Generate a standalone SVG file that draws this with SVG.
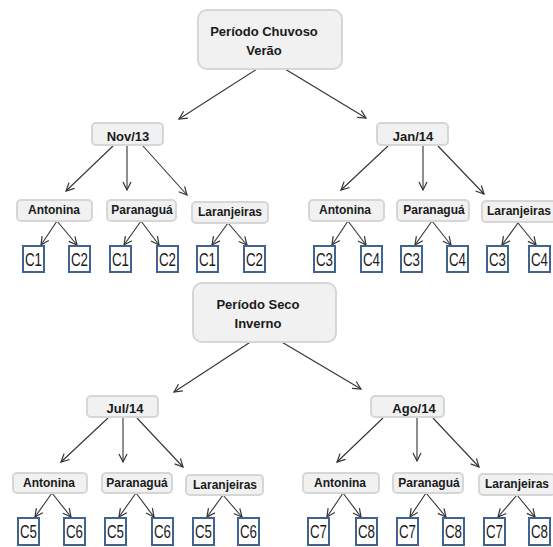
<svg xmlns="http://www.w3.org/2000/svg" width="553" height="547" viewBox="0 0 553 547">
<style>
.box{fill:#F1F1F1;stroke:#D6D6D6;stroke-width:2}
.cb{fill:#FFFFFF;stroke:#40638F;stroke-width:2}
.t{font-family:"Liberation Sans",Arial,sans-serif;font-weight:bold;fill:#1A1A1A;text-anchor:middle}
.t13{font-size:13px}
.t12{font-size:12px}
.c{font-family:"Liberation Sans",Arial,sans-serif;font-size:18px;fill:#1A1A1A;text-anchor:middle}
.e{stroke:#333333;stroke-width:1.1;fill:none;marker-end:url(#ah)}
</style>
<defs>
<marker id="ah" markerUnits="userSpaceOnUse" markerWidth="12" markerHeight="12" refX="8" refY="4" orient="auto" overflow="visible">
<path d="M0,0 L8,4 L0,8" fill="none" stroke="#333333" stroke-width="1.2"/>
</marker>
</defs>
<rect width="553" height="547" fill="#FFFFFF"/>
<g id="connectors">
<line class="e" x1="257" y1="69" x2="179" y2="119"/>
<line class="e" x1="285" y1="69" x2="366" y2="118"/>
<line class="e" x1="252" y1="341" x2="174" y2="392"/>
<line class="e" x1="280" y1="341" x2="361" y2="389"/>
<line class="e" x1="113" y1="146" x2="66" y2="191"/>
<line class="e" x1="127" y1="146" x2="127" y2="190"/>
<line class="e" x1="143" y1="146" x2="187" y2="195"/>
<line class="e" x1="388" y1="146" x2="341" y2="190"/>
<line class="e" x1="423" y1="146" x2="423" y2="190"/>
<line class="e" x1="438" y1="146" x2="484" y2="194"/>
<line class="e" x1="108" y1="418" x2="61" y2="462"/>
<line class="e" x1="123" y1="418" x2="123" y2="462"/>
<line class="e" x1="137" y1="418" x2="183" y2="467"/>
<line class="e" x1="383" y1="418" x2="337" y2="462"/>
<line class="e" x1="417" y1="418" x2="417" y2="461"/>
<line class="e" x1="433" y1="418" x2="479" y2="467"/>
<line class="e" x1="57" y1="221" x2="41" y2="245"/>
<line class="e" x1="57" y1="221" x2="77" y2="245"/>
<line class="e" x1="141" y1="221" x2="124" y2="245"/>
<line class="e" x1="141" y1="221" x2="159" y2="245"/>
<line class="e" x1="228" y1="223" x2="212" y2="245"/>
<line class="e" x1="228" y1="223" x2="247" y2="245"/>
<line class="e" x1="348" y1="221" x2="332" y2="245"/>
<line class="e" x1="348" y1="221" x2="366" y2="245"/>
<line class="e" x1="432" y1="221" x2="415" y2="245"/>
<line class="e" x1="432" y1="221" x2="451" y2="245"/>
<line class="e" x1="518" y1="223" x2="502" y2="245"/>
<line class="e" x1="518" y1="223" x2="536" y2="245"/>
<line class="e" x1="52" y1="493" x2="35" y2="517"/>
<line class="e" x1="52" y1="493" x2="71" y2="517"/>
<line class="e" x1="136" y1="493" x2="119" y2="517"/>
<line class="e" x1="136" y1="493" x2="154" y2="517"/>
<line class="e" x1="223" y1="495" x2="207" y2="517"/>
<line class="e" x1="223" y1="495" x2="242" y2="517"/>
<line class="e" x1="343" y1="493" x2="327" y2="517"/>
<line class="e" x1="343" y1="493" x2="361" y2="517"/>
<line class="e" x1="426" y1="493" x2="410" y2="517"/>
<line class="e" x1="426" y1="493" x2="446" y2="517"/>
<line class="e" x1="517" y1="495" x2="498" y2="517"/>
<line class="e" x1="517" y1="495" x2="535" y2="517"/>
</g>
<g id="chuvoso"><rect class="box" x="198" y="10" width="144" height="59" rx="9"/><text class="t t13" x="264" y="36">Período Chuvoso</text><text class="t t13" x="264" y="55">Verão</text></g>
<g id="seco"><rect class="box" x="193" y="283" width="143" height="59" rx="9"/><text class="t t13" x="258" y="309">Período Seco</text><text class="t t13" x="258" y="328">Inverno</text></g>
<g id="nov13"><rect class="box" x="92" y="123" width="71" height="22" rx="4"/><text class="t t13" x="128" y="141">Nov/13</text></g>
<g id="jan14"><rect class="box" x="377" y="123" width="71" height="22" rx="4"/><text class="t t13" x="413" y="141">Jan/14</text></g>
<g id="jul14"><rect class="box" x="87" y="396" width="71" height="21" rx="4"/><text class="t t13" x="125" y="413">Jul/14</text></g>
<g id="ago14"><rect class="box" x="371" y="396" width="73" height="21" rx="4"/><text class="t t13" x="414" y="413">Ago/14</text></g>
<g id="n-antonina"><rect class="box" x="17" y="200" width="75" height="21" rx="4"/><text class="t t12" x="54" y="214">Antonina</text></g>
<g id="n-paranagua"><rect class="box" x="107" y="200" width="69" height="21" rx="4"/><text class="t t12" x="142" y="214">Paranaguá</text></g>
<g id="n-laranjeiras"><rect class="box" x="192" y="202" width="76" height="21" rx="4"/><text class="t t12" x="230" y="216">Laranjeiras</text></g>
<g id="j-antonina"><rect class="box" x="309" y="200" width="75" height="21" rx="4"/><text class="t t12" x="345" y="214">Antonina</text></g>
<g id="j-paranagua"><rect class="box" x="397" y="200" width="72" height="21" rx="4"/><text class="t t12" x="434" y="214">Paranaguá</text></g>
<g id="j-laranjeiras"><rect class="box" x="482" y="201" width="76" height="21" rx="4"/><text class="t t12" x="519" y="215">Laranjeiras</text></g>
<g id="l-antonina"><rect class="box" x="13" y="473" width="74" height="20" rx="4"/><text class="t t12" x="49" y="487">Antonina</text></g>
<g id="l-paranagua"><rect class="box" x="102" y="473" width="70" height="20" rx="4"/><text class="t t12" x="137" y="487">Paranaguá</text></g>
<g id="l-laranjeiras"><rect class="box" x="186" y="475" width="77" height="20" rx="4"/><text class="t t12" x="225" y="489">Laranjeiras</text></g>
<g id="a-antonina"><rect class="box" x="303" y="473" width="76" height="20" rx="4"/><text class="t t12" x="340" y="487">Antonina</text></g>
<g id="a-paranagua"><rect class="box" x="393" y="473" width="70" height="20" rx="4"/><text class="t t12" x="429" y="487">Paranaguá</text></g>
<g id="a-laranjeiras"><rect class="box" x="479" y="474" width="76" height="21" rx="4"/><text class="t t12" x="517" y="488">Laranjeiras</text></g>
<g id="c-r1-1"><rect class="cb" x="23" y="246" width="21" height="26"/><text class="c" x="33.5" y="266" textLength="17" lengthAdjust="spacingAndGlyphs">C1</text></g>
<g id="c-r1-2"><rect class="cb" x="69" y="246" width="21" height="26"/><text class="c" x="79.5" y="266" textLength="17" lengthAdjust="spacingAndGlyphs">C2</text></g>
<g id="c-r1-3"><rect class="cb" x="110" y="246" width="21" height="26"/><text class="c" x="120.5" y="266" textLength="17" lengthAdjust="spacingAndGlyphs">C1</text></g>
<g id="c-r1-4"><rect class="cb" x="157" y="246" width="21" height="26"/><text class="c" x="167.5" y="266" textLength="17" lengthAdjust="spacingAndGlyphs">C2</text></g>
<g id="c-r1-5"><rect class="cb" x="197" y="246" width="21" height="26"/><text class="c" x="207.5" y="266" textLength="17" lengthAdjust="spacingAndGlyphs">C1</text></g>
<g id="c-r1-6"><rect class="cb" x="244" y="246" width="21" height="26"/><text class="c" x="254.5" y="266" textLength="17" lengthAdjust="spacingAndGlyphs">C2</text></g>
<g id="c-r1-7"><rect class="cb" x="314" y="246" width="21" height="26"/><text class="c" x="324.5" y="266" textLength="17" lengthAdjust="spacingAndGlyphs">C3</text></g>
<g id="c-r1-8"><rect class="cb" x="361" y="246" width="21" height="26"/><text class="c" x="371.5" y="266" textLength="17" lengthAdjust="spacingAndGlyphs">C4</text></g>
<g id="c-r1-9"><rect class="cb" x="401" y="246" width="21" height="26"/><text class="c" x="411.5" y="266" textLength="17" lengthAdjust="spacingAndGlyphs">C3</text></g>
<g id="c-r1-10"><rect class="cb" x="447" y="246" width="21" height="26"/><text class="c" x="457.5" y="266" textLength="17" lengthAdjust="spacingAndGlyphs">C4</text></g>
<g id="c-r1-11"><rect class="cb" x="487" y="246" width="21" height="26"/><text class="c" x="497.5" y="266" textLength="17" lengthAdjust="spacingAndGlyphs">C3</text></g>
<g id="c-r1-12"><rect class="cb" x="529" y="246" width="21" height="26"/><text class="c" x="539.5" y="266" textLength="17" lengthAdjust="spacingAndGlyphs">C4</text></g>
<g id="c-r2-1"><rect class="cb" x="18" y="518" width="21" height="27"/><text class="c" x="28.5" y="538" textLength="17" lengthAdjust="spacingAndGlyphs">C5</text></g>
<g id="c-r2-2"><rect class="cb" x="64" y="518" width="21" height="27"/><text class="c" x="74.5" y="538" textLength="17" lengthAdjust="spacingAndGlyphs">C6</text></g>
<g id="c-r2-3"><rect class="cb" x="105" y="518" width="21" height="27"/><text class="c" x="115.5" y="538" textLength="17" lengthAdjust="spacingAndGlyphs">C5</text></g>
<g id="c-r2-4"><rect class="cb" x="152" y="518" width="21" height="27"/><text class="c" x="162.5" y="538" textLength="17" lengthAdjust="spacingAndGlyphs">C6</text></g>
<g id="c-r2-5"><rect class="cb" x="193" y="518" width="21" height="27"/><text class="c" x="203.5" y="538" textLength="17" lengthAdjust="spacingAndGlyphs">C5</text></g>
<g id="c-r2-6"><rect class="cb" x="238" y="518" width="21" height="27"/><text class="c" x="248.5" y="538" textLength="17" lengthAdjust="spacingAndGlyphs">C6</text></g>
<g id="c-r2-7"><rect class="cb" x="308" y="518" width="21" height="27"/><text class="c" x="318.5" y="538" textLength="17" lengthAdjust="spacingAndGlyphs">C7</text></g>
<g id="c-r2-8"><rect class="cb" x="356" y="518" width="21" height="27"/><text class="c" x="366.5" y="538" textLength="17" lengthAdjust="spacingAndGlyphs">C8</text></g>
<g id="c-r2-9"><rect class="cb" x="397" y="518" width="21" height="27"/><text class="c" x="407.5" y="538" textLength="17" lengthAdjust="spacingAndGlyphs">C7</text></g>
<g id="c-r2-10"><rect class="cb" x="443" y="518" width="21" height="27"/><text class="c" x="453.5" y="538" textLength="17" lengthAdjust="spacingAndGlyphs">C8</text></g>
<g id="c-r2-11"><rect class="cb" x="484" y="518" width="21" height="27"/><text class="c" x="494.5" y="538" textLength="17" lengthAdjust="spacingAndGlyphs">C7</text></g>
<g id="c-r2-12"><rect class="cb" x="529" y="518" width="21" height="27"/><text class="c" x="539.5" y="538" textLength="17" lengthAdjust="spacingAndGlyphs">C8</text></g>
</svg>
